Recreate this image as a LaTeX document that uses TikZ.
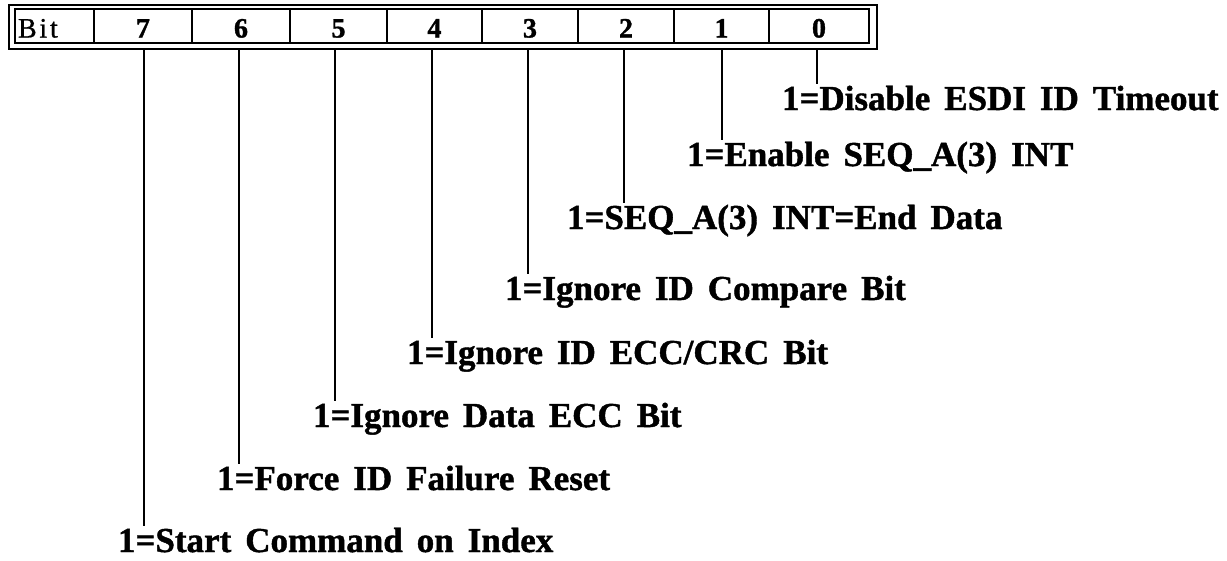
\documentclass[tikz,border=0pt]{standalone}
\usepackage{fontspec}
\setmainfont{Liberation Serif}[WordSpace=1.6]
\begin{document}
\begin{tikzpicture}[x=1pt,y=-1pt,
  frame/.style={draw, line width=2.5pt, inner sep=0pt, outer sep=0pt},
  cell/.style={draw, line width=2.2pt, minimum height=34pt, inner sep=0pt, outer sep=0pt,
    text height=23pt, text depth=0pt,
    font=\fontsize{28}{32}\selectfont\bfseries\addfontfeature{FakeBold=1.2}},
  hdr/.style={anchor=base west, inner sep=0pt, outer sep=0pt,
    font=\fontsize{28}{32}\selectfont\addfontfeature{LetterSpace=10,FakeBold=0.8}},
  desc/.style={anchor=base west, inner sep=0pt, outer sep=0pt, text height=23pt, text depth=0pt,
    font=\fontsize{35}{42}\selectfont\bfseries\addfontfeature{FakeBold=1.2}},
  lead/.style={line width=2.6pt, shorten >=3pt}]
\useasboundingbox (0,0) rectangle (1227,560);

% register outline
\node[frame, minimum width=868pt, minimum height=44pt] (frame) at (443,27) {};

% header cells
\node[cell, minimum width=79pt]  (cb) at (54.5,26) {};
\node[hdr] (bit) at (18,37.5) {Bit};
\node[cell, minimum width=98pt]  (c7) at (143,26)   {7};
\node[cell, minimum width=98pt]  (c6) at (241,26)   {6};
\node[cell, minimum width=97pt]  (c5) at (338.5,26) {5};
\node[cell, minimum width=95pt]  (c4) at (434.5,26) {4};
\node[cell, minimum width=96pt]  (c3) at (530,26)   {3};
\node[cell, minimum width=96pt]  (c2) at (626,26)   {2};
\node[cell, minimum width=95pt]  (c1) at (721.5,26) {1};
\node[cell, minimum width=100pt] (c0) at (819,26)   {0};

% bit descriptions
\node[desc] (l0) at (782,110) {1=Disable ESDI ID Timeout};
\node[desc] (l1) at (687,166) {1=Enable SEQ\_A(3) INT};
\node[desc] (l2) at (567,229) {1=SEQ\_A(3) INT=End Data};
\node[desc] (l3) at (505,300) {1=Ignore ID Compare Bit};
\node[desc] (l4) at (407,364) {1=Ignore ID ECC/CRC Bit};
\node[desc] (l5) at (313,427) {1=Ignore Data ECC Bit};
\node[desc] (l6) at (217,490) {1=Force ID Failure Reset};
\node[desc] (l7) at (118,552) {1=Start Command on Index};

% leader lines from the register to each description
\foreach \n/\x in {7/144,6/239,5/335,4/432,3/528,2/624,1/722,0/817}{
  \coordinate (t\n) at (\x,49);
  \draw[lead] (t\n) -- (t\n |- l\n.north);
}
\end{tikzpicture}
\end{document}
